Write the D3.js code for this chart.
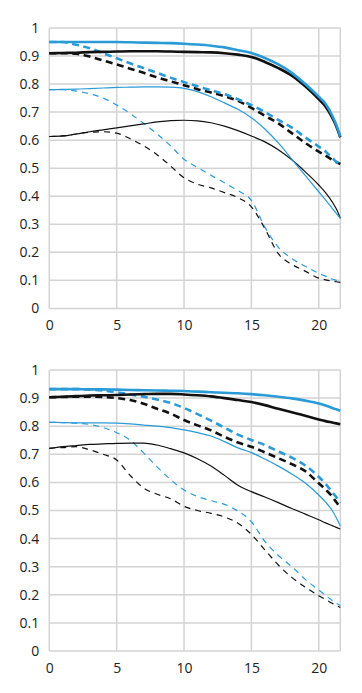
<!DOCTYPE html>
<html><head><meta charset="utf-8">
<script src="https://cdn.jsdelivr.net/npm/d3@7"></script>
<style>
html,body{margin:0;padding:0;background:#fff;}
svg{display:block;}
</style></head>
<body>
<svg id="chart" width="362" height="693"></svg>
<script>
// Image height (mm) positions
const xs = [0,1,2,3,4,5,6,7,8,9,10,11,12,13,14,15,16,17,18,19,20,20.5,21,21.3,21.6];
const xTicks = [0,5,10,15,20];
const yTicks = [0,0.1,0.2,0.3,0.4,0.5,0.6,0.7,0.8,0.9,1];
const yTickLabels = ["0","0.1","0.2","0.3","0.4","0.5","0.6","0.7","0.8","0.9","1"];

// Top chart
const topBlueThickSolid  = [0.95,0.95,0.95,0.95,0.95,0.95,0.949,0.948,0.947,0.946,0.944,0.941,0.937,0.931,0.921,0.911,0.893,0.87,0.84,0.80,0.755,0.73,0.688,0.655,0.613];
const topBlackThickSolid = [0.91,0.911,0.912,0.914,0.915,0.916,0.917,0.917,0.917,0.916,0.915,0.914,0.913,0.91,0.905,0.897,0.879,0.857,0.83,0.792,0.746,0.72,0.68,0.65,0.61];
const topBlueThickDash   = [0.95,0.95,0.94,0.928,0.91,0.892,0.874,0.857,0.84,0.823,0.807,0.792,0.778,0.764,0.746,0.725,0.70,0.672,0.645,0.61,0.577,0.56,0.537,0.523,0.51];
const topBlackThickDash  = [0.91,0.91,0.908,0.898,0.884,0.87,0.855,0.84,0.824,0.81,0.796,0.782,0.77,0.757,0.74,0.715,0.687,0.66,0.625,0.59,0.559,0.545,0.53,0.522,0.515];
const topBlueThinSolid   = [0.78,0.781,0.782,0.784,0.786,0.788,0.789,0.79,0.79,0.789,0.785,0.773,0.755,0.733,0.71,0.68,0.64,0.59,0.532,0.474,0.416,0.387,0.357,0.339,0.321];
const topBlackThinSolid  = [0.613,0.615,0.622,0.63,0.637,0.644,0.651,0.658,0.665,0.67,0.671,0.669,0.662,0.65,0.634,0.615,0.594,0.566,0.53,0.487,0.44,0.413,0.38,0.355,0.322];
const topBlueThinDash    = [0.78,0.78,0.775,0.765,0.75,0.725,0.695,0.66,0.622,0.58,0.532,0.503,0.475,0.448,0.42,0.385,0.29,0.218,0.178,0.15,0.125,0.115,0.105,0.1,0.095];
const topBlackThinDash   = [0.613,0.615,0.622,0.628,0.63,0.625,0.605,0.58,0.548,0.508,0.466,0.443,0.43,0.413,0.395,0.362,0.285,0.195,0.157,0.133,0.108,0.102,0.097,0.095,0.093];

// Bottom chart
const botBlueThickSolid  = [0.932,0.932,0.932,0.931,0.931,0.93,0.929,0.928,0.927,0.926,0.925,0.923,0.921,0.919,0.917,0.914,0.91,0.905,0.899,0.891,0.881,0.874,0.865,0.86,0.855];
const botBlackThickSolid = [0.903,0.905,0.907,0.909,0.91,0.911,0.913,0.914,0.915,0.915,0.913,0.91,0.906,0.9,0.893,0.886,0.875,0.862,0.85,0.837,0.824,0.818,0.813,0.81,0.807];
const botBlueThickDash   = [0.932,0.932,0.932,0.93,0.927,0.921,0.913,0.905,0.895,0.883,0.865,0.843,0.82,0.795,0.77,0.751,0.733,0.71,0.688,0.66,0.62,0.595,0.565,0.548,0.528];
const botBlackThickDash  = [0.903,0.904,0.905,0.905,0.904,0.9,0.893,0.88,0.862,0.845,0.822,0.803,0.785,0.762,0.742,0.727,0.707,0.686,0.665,0.64,0.597,0.575,0.55,0.53,0.51];
const botBlueThinSolid   = [0.814,0.813,0.812,0.812,0.812,0.811,0.808,0.804,0.8,0.795,0.787,0.777,0.765,0.745,0.723,0.706,0.683,0.658,0.63,0.598,0.555,0.53,0.5,0.474,0.445];
const botBlackThinSolid  = [0.721,0.727,0.731,0.735,0.737,0.739,0.74,0.74,0.733,0.72,0.705,0.684,0.658,0.625,0.59,0.567,0.548,0.528,0.507,0.487,0.467,0.456,0.446,0.44,0.434];
const botBlueThinDash    = [0.814,0.813,0.811,0.806,0.795,0.777,0.75,0.705,0.655,0.61,0.573,0.55,0.535,0.522,0.498,0.46,0.39,0.34,0.3,0.255,0.217,0.198,0.18,0.17,0.162];
const botBlackThinDash   = [0.721,0.724,0.727,0.716,0.7,0.68,0.625,0.58,0.558,0.542,0.515,0.5,0.49,0.477,0.455,0.415,0.36,0.306,0.262,0.227,0.197,0.183,0.17,0.162,0.155];

const BLUE = "#2a9bd6", BLACK = "#111111";
const styles = {
  thickSolid: {w:2.6, dash:null},
  thickDash:  {w:2.6, dash:"7,4.5"},
  thinSolid:  {w:1.2, dash:null},
  thinDash:   {w:1.2, dash:"6,5"}
};

const panels = [
  {top:28, bottom:308.4, series:[
    [topBlackThinDash, BLACK, "thinDash"], [topBlueThinDash, BLUE, "thinDash"],
    [topBlackThinSolid, BLACK, "thinSolid"], [topBlueThinSolid, BLUE, "thinSolid"],
    [topBlackThickDash, BLACK, "thickDash"], [topBlueThickDash, BLUE, "thickDash"],
    [topBlackThickSolid, BLACK, "thickSolid"], [topBlueThickSolid, BLUE, "thickSolid"]]},
  {top:370, bottom:651, series:[
    [botBlackThinDash, BLACK, "thinDash"], [botBlueThinDash, BLUE, "thinDash"],
    [botBlackThinSolid, BLACK, "thinSolid"], [botBlueThinSolid, BLUE, "thinSolid"],
    [botBlackThickDash, BLACK, "thickDash"], [botBlueThickDash, BLUE, "thickDash"],
    [botBlackThickSolid, BLACK, "thickSolid"], [botBlueThickSolid, BLUE, "thickSolid"]]}
];

const svg = d3.select("#chart");
const left = 49.3, right = 340.3;
const x = d3.scaleLinear().domain([0, 21.6]).range([left, right]);
const FONT = "'Open Sans', 'Noto Sans', sans-serif";

panels.forEach(p => {
  const y = d3.scaleLinear().domain([0, 1]).range([p.bottom, p.top]);
  const g = svg.append("g");
  const grid = g.append("g").attr("stroke", "#d3d3d3").attr("stroke-width", 1.5).attr("fill","none");
  yTicks.forEach(t => grid.append("line").attr("x1", left).attr("x2", right).attr("y1", y(t)).attr("y2", y(t)));
  xTicks.concat([21.6]).forEach(t => grid.append("line").attr("x1", x(t)).attr("x2", x(t)).attr("y1", p.top).attr("y2", p.bottom));

  // axes labels via d3 axes
  const yAxis = d3.axisLeft(y).tickValues(yTicks).tickSize(0).tickPadding(10)
    .tickFormat((d,i) => yTickLabels[i]);
  const ya = g.append("g").attr("transform", `translate(${left},0)`).call(yAxis);
  ya.select(".domain").remove();
  ya.selectAll("text").attr("font-family", FONT).attr("font-size", 14).attr("fill", "#222");

  const xAxis = d3.axisBottom(x).tickValues(xTicks).tickSize(0).tickPadding(12).tickFormat(d3.format("d"));
  const xa = g.append("g").attr("transform", `translate(0,${p.bottom})`).call(xAxis);
  xa.select(".domain").remove();
  xa.selectAll("text").attr("font-family", FONT).attr("font-size", 14).attr("fill", "#222");

  const line = d3.line().x((d,i) => x(xs[i])).y(d => y(d)).curve(d3.curveMonotoneX);
  p.series.forEach(([vals, color, st]) => {
    const s = styles[st];
    const path = g.append("path").datum(vals).attr("d", line)
      .attr("fill", "none").attr("stroke", color).attr("stroke-width", s.w)
      .attr("stroke-linejoin","round");
    if (s.dash) path.attr("stroke-dasharray", s.dash);
  });
});
</script>
</body></html>
